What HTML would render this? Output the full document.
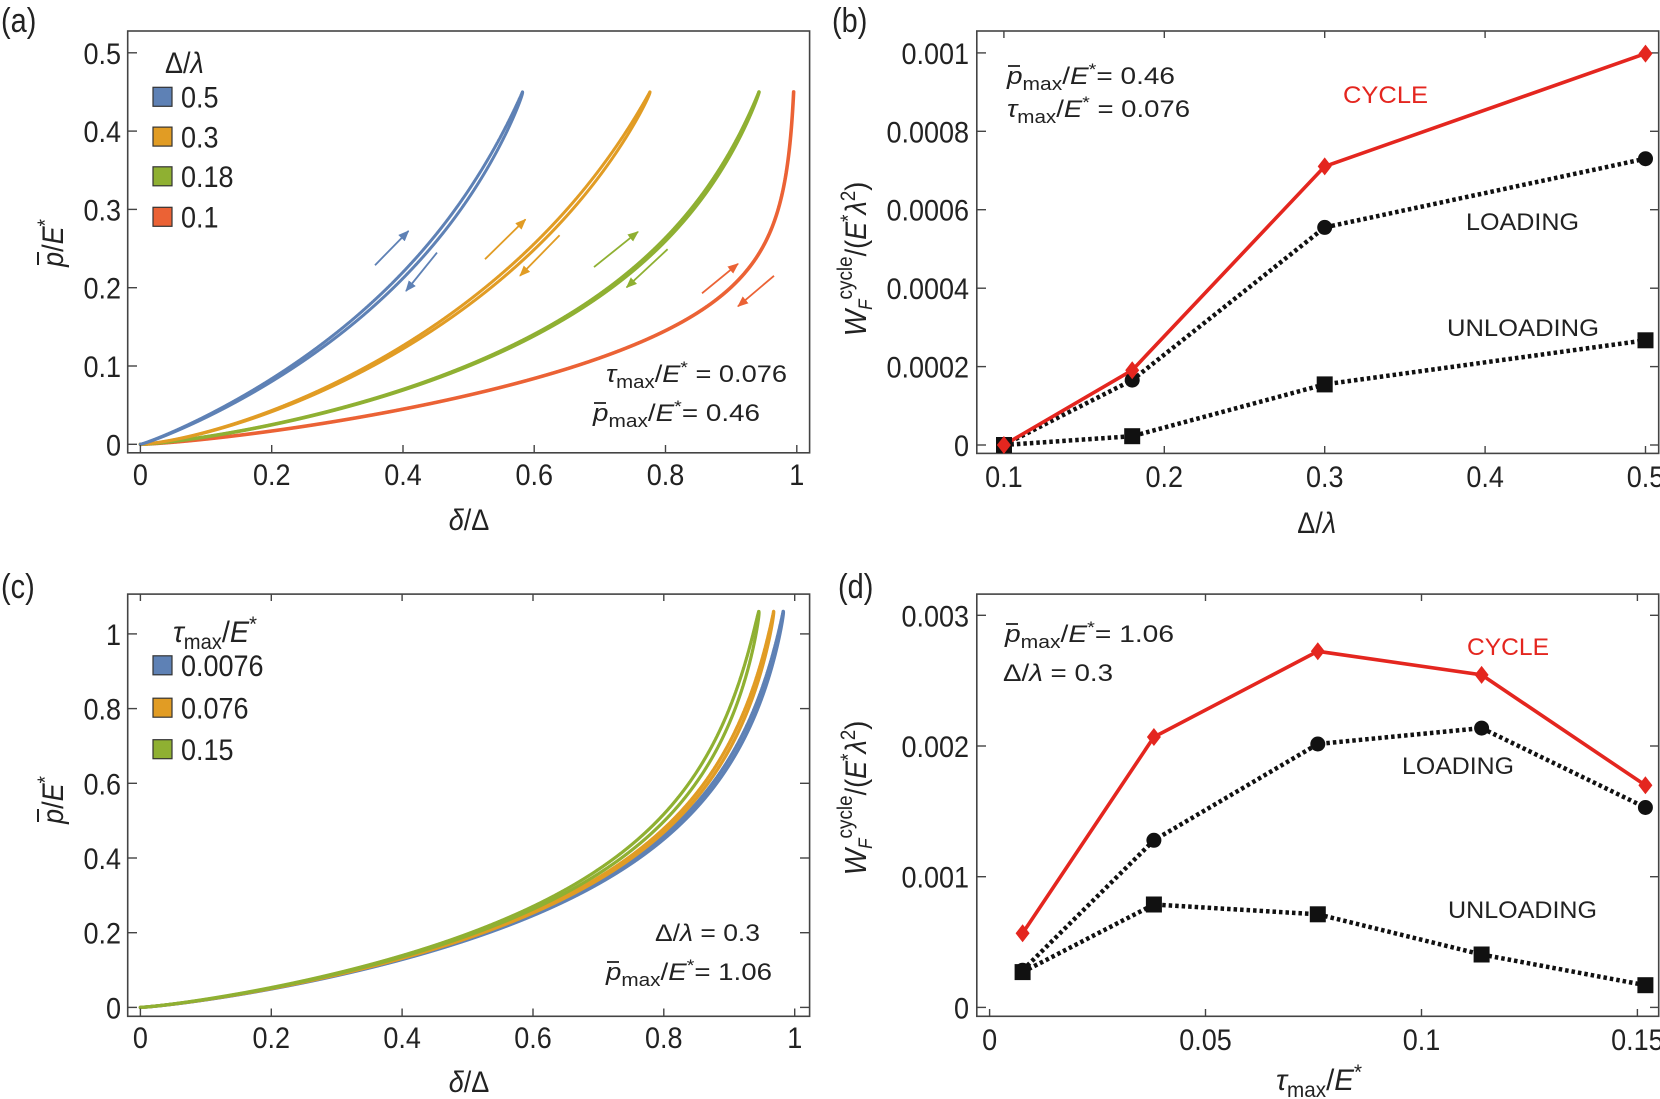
<!DOCTYPE html>
<html><head><meta charset="utf-8"><style>
html,body{margin:0;padding:0;background:#fff;overflow:hidden}
svg{display:block}
text{font-family:"Liberation Sans",sans-serif;fill:#222}
.t{font-size:30px}
.a{font-size:24px}
.it{font-style:italic}
</style></head><body>
<svg id="s" width="1660" height="1099" viewBox="0 0 1660 1099" xmlns="http://www.w3.org/2000/svg">
<defs>
<marker id="mb" markerWidth="11" markerHeight="9" refX="10" refY="4.5" orient="auto" markerUnits="userSpaceOnUse"><path d="M0,0 L11,4.5 L0,9 z" fill="#5E81B5"/></marker>
<marker id="mo" markerWidth="11" markerHeight="9" refX="10" refY="4.5" orient="auto" markerUnits="userSpaceOnUse"><path d="M0,0 L11,4.5 L0,9 z" fill="#E19C24"/></marker>
<marker id="mg" markerWidth="11" markerHeight="9" refX="10" refY="4.5" orient="auto" markerUnits="userSpaceOnUse"><path d="M0,0 L11,4.5 L0,9 z" fill="#8FB032"/></marker>
<marker id="mr" markerWidth="11" markerHeight="9" refX="10" refY="4.5" orient="auto" markerUnits="userSpaceOnUse"><path d="M0,0 L11,4.5 L0,9 z" fill="#EB6235"/></marker>
</defs>

<text class="t" transform="translate(1,32) scale(.85,1)" style="font-size:34px">(a)</text>
<text class="t" transform="translate(832,32) scale(.85,1)" style="font-size:34px">(b)</text>
<text class="t" transform="translate(1,598) scale(.85,1)" style="font-size:34px">(c)</text>
<text class="t" transform="translate(838,598) scale(.85,1)" style="font-size:34px">(d)</text>

<!-- ===== Panel A ===== -->
<g id="curvesA"></g>
<rect x="127.7" y="31" width="681.9" height="421.8" fill="none" stroke="#444" stroke-width="1.6"/>
<g stroke="#444" stroke-width="1.4">
<line x1="127.7" y1="444.3" x2="137" y2="444.3"/><line x1="127.7" y1="366" x2="137" y2="366"/><line x1="127.7" y1="287.7" x2="137" y2="287.7"/><line x1="127.7" y1="209.4" x2="137" y2="209.4"/><line x1="127.7" y1="131.1" x2="137" y2="131.1"/><line x1="127.7" y1="52.8" x2="137" y2="52.8"/>
<line x1="140.4" y1="452.8" x2="140.4" y2="445"/><line x1="271.7" y1="452.8" x2="271.7" y2="445"/><line x1="403" y1="452.8" x2="403" y2="445"/><line x1="534.2" y1="452.8" x2="534.2" y2="445"/><line x1="665.5" y1="452.8" x2="665.5" y2="445"/><line x1="796.8" y1="452.8" x2="796.8" y2="445"/>
</g>
<g text-anchor="end">
<text class="t" transform="translate(121,455.3) scale(.9,1)">0</text>
<text class="t" transform="translate(121,377) scale(.9,1)">0.1</text>
<text class="t" transform="translate(121,298.7) scale(.9,1)">0.2</text>
<text class="t" transform="translate(121,220.4) scale(.9,1)">0.3</text>
<text class="t" transform="translate(121,142.1) scale(.9,1)">0.4</text>
<text class="t" transform="translate(121,63.8) scale(.9,1)">0.5</text>
</g>
<g text-anchor="middle">
<text class="t" transform="translate(140.4,485) scale(.9,1)">0</text>
<text class="t" transform="translate(271.7,485) scale(.9,1)">0.2</text>
<text class="t" transform="translate(403,485) scale(.9,1)">0.4</text>
<text class="t" transform="translate(534.2,485) scale(.9,1)">0.6</text>
<text class="t" transform="translate(665.5,485) scale(.9,1)">0.8</text>
<text class="t" transform="translate(796.8,485) scale(.9,1)">1</text>
<text class="t" transform="translate(469,530) scale(.9,1)"><tspan class="it">δ</tspan>/Δ</text>
<text class="t" transform="translate(63,243) rotate(-90) scale(.9,1)"><tspan class="it">p</tspan>/<tspan class="it">E</tspan><tspan dy="-11" font-size="21">*</tspan></text>
</g>
<line x1="38" y1="265" x2="38" y2="252" stroke="#222" stroke-width="2"/>
<text class="t" transform="translate(165,73) scale(.9,1)">Δ/<tspan class="it">λ</tspan></text>
<rect x="153" y="87.3" width="19" height="19" fill="#5E81B5" stroke="#333" stroke-width="1.2"/>
<rect x="153" y="127.1" width="19" height="19" fill="#E19C24" stroke="#333" stroke-width="1.2"/>
<rect x="153" y="166.8" width="19" height="19" fill="#8FB032" stroke="#333" stroke-width="1.2"/>
<rect x="153" y="207.3" width="19" height="19" fill="#EB6235" stroke="#333" stroke-width="1.2"/>
<text class="t" transform="translate(181,107.5) scale(.9,1)">0.5</text>
<text class="t" transform="translate(181,147.3) scale(.9,1)">0.3</text>
<text class="t" transform="translate(181,187) scale(.9,1)">0.18</text>
<text class="t" transform="translate(181,227.5) scale(.9,1)">0.1</text>
<text class="a" x="606" y="382" textLength="181" lengthAdjust="spacingAndGlyphs"><tspan class="it">τ</tspan><tspan font-size="18" dy="6">max</tspan><tspan dy="-6">/</tspan><tspan class="it">E</tspan><tspan dy="-9" font-size="17">*</tspan><tspan dy="9"> = 0.076</tspan></text>
<text class="a" x="593" y="421" textLength="167" lengthAdjust="spacingAndGlyphs"><tspan class="it">p</tspan><tspan font-size="18" dy="6">max</tspan><tspan dy="-6">/</tspan><tspan class="it">E</tspan><tspan dy="-9" font-size="17">*</tspan><tspan dy="9">= 0.46</tspan></text>
<line x1="594" y1="403" x2="606" y2="403" stroke="#222" stroke-width="1.8"/>
<g stroke-width="1.8" fill="none">
<line x1="375" y1="265.2" x2="408.5" y2="231" stroke="#5E81B5" marker-end="url(#mb)"/>
<line x1="437" y1="252.6" x2="406" y2="291" stroke="#5E81B5" marker-end="url(#mb)"/>
<line x1="485" y1="259.2" x2="525.5" y2="219.4" stroke="#E19C24" marker-end="url(#mo)"/>
<line x1="559.6" y1="235.3" x2="520" y2="275.8" stroke="#E19C24" marker-end="url(#mo)"/>
<line x1="594" y1="267.1" x2="638" y2="231.8" stroke="#8FB032" marker-end="url(#mg)"/>
<line x1="667.6" y1="249.2" x2="626.6" y2="287.4" stroke="#8FB032" marker-end="url(#mg)"/>
<line x1="702" y1="293.3" x2="738" y2="263.8" stroke="#EB6235" marker-end="url(#mr)"/>
<line x1="774" y1="275.8" x2="738" y2="306.3" stroke="#EB6235" marker-end="url(#mr)"/>
</g>

<!-- ===== Panel B ===== -->
<rect x="976.8" y="31" width="681.9" height="422.4" fill="none" stroke="#444" stroke-width="1.6"/>
<g stroke="#444" stroke-width="1.4">
<line x1="976.8" y1="445" x2="986" y2="445"/><line x1="976.8" y1="366.6" x2="986" y2="366.6"/><line x1="976.8" y1="288.2" x2="986" y2="288.2"/><line x1="976.8" y1="209.7" x2="986" y2="209.7"/><line x1="976.8" y1="131.3" x2="986" y2="131.3"/><line x1="976.8" y1="52.9" x2="986" y2="52.9"/>
<line x1="1658.7" y1="445" x2="1650" y2="445"/><line x1="1658.7" y1="366.6" x2="1650" y2="366.6"/><line x1="1658.7" y1="288.2" x2="1650" y2="288.2"/><line x1="1658.7" y1="209.7" x2="1650" y2="209.7"/><line x1="1658.7" y1="131.3" x2="1650" y2="131.3"/><line x1="1658.7" y1="52.9" x2="1650" y2="52.9"/>
<line x1="1164.3" y1="453.4" x2="1164.3" y2="446"/><line x1="1324.7" y1="453.4" x2="1324.7" y2="446"/><line x1="1485.1" y1="453.4" x2="1485.1" y2="446"/><line x1="1003.9" y1="453.4" x2="1003.9" y2="446"/><line x1="1645.5" y1="453.4" x2="1645.5" y2="446"/>
<line x1="1003.9" y1="31" x2="1003.9" y2="38"/><line x1="1164.3" y1="31" x2="1164.3" y2="38"/><line x1="1324.7" y1="31" x2="1324.7" y2="38"/><line x1="1485.1" y1="31" x2="1485.1" y2="38"/>
</g>
<g text-anchor="end">
<text class="t" transform="translate(969,456) scale(.9,1)">0</text>
<text class="t" transform="translate(969,377.6) scale(.9,1)">0.0002</text>
<text class="t" transform="translate(969,299.2) scale(.9,1)">0.0004</text>
<text class="t" transform="translate(969,220.7) scale(.9,1)">0.0006</text>
<text class="t" transform="translate(969,142.3) scale(.9,1)">0.0008</text>
<text class="t" transform="translate(969,63.9) scale(.9,1)">0.001</text>
</g>
<g text-anchor="middle">
<text class="t" transform="translate(1003.9,487) scale(.9,1)">0.1</text>
<text class="t" transform="translate(1164.3,487) scale(.9,1)">0.2</text>
<text class="t" transform="translate(1324.7,487) scale(.9,1)">0.3</text>
<text class="t" transform="translate(1485.1,487) scale(.9,1)">0.4</text>
<text class="t" transform="translate(1645.5,487) scale(.9,1)">0.5</text>
<text class="t" transform="translate(1316.7,533) scale(.9,1)">Δ/<tspan class="it">λ</tspan></text>
<text class="t" transform="translate(866,259) rotate(-90) scale(.9,1)"><tspan class="it" font-size="31">W</tspan><tspan class="it" font-size="19" dy="6">F</tspan><tspan font-size="21" dy="-20">cycle</tspan><tspan dy="14">/(</tspan><tspan class="it">E</tspan><tspan dy="-11" font-size="21">*</tspan><tspan dy="11" class="it">λ</tspan><tspan dy="-11" font-size="21">2</tspan><tspan dy="11">)</tspan></text>
</g>
<text class="a" x="1007" y="84" textLength="168" lengthAdjust="spacingAndGlyphs"><tspan class="it">p</tspan><tspan font-size="18" dy="6">max</tspan><tspan dy="-6">/</tspan><tspan class="it">E</tspan><tspan dy="-9" font-size="17">*</tspan><tspan dy="9">= 0.46</tspan></text>
<line x1="1008" y1="66" x2="1020" y2="66" stroke="#222" stroke-width="1.8"/>
<text class="a" x="1007" y="117" textLength="183" lengthAdjust="spacingAndGlyphs"><tspan class="it">τ</tspan><tspan font-size="18" dy="6">max</tspan><tspan dy="-6">/</tspan><tspan class="it">E</tspan><tspan dy="-9" font-size="17">*</tspan><tspan dy="9"> = 0.076</tspan></text>
<text class="a" x="1343" y="103" textLength="85" lengthAdjust="spacingAndGlyphs" style="fill:#E4261F">CYCLE</text>
<text class="a" x="1466" y="230" textLength="113" lengthAdjust="spacingAndGlyphs">LOADING</text>
<text class="a" x="1447" y="336" textLength="152" lengthAdjust="spacingAndGlyphs">UNLOADING</text>
<g fill="none">
<polyline points="1003.9,445 1132.2,380.1 1324.7,227.4 1645.5,158.7" stroke="#111" stroke-width="4.5" stroke-dasharray="3.5,3"/>
<polyline points="1003.9,445 1132.2,436.2 1324.7,384.4 1645.5,340.3" stroke="#111" stroke-width="4.5" stroke-dasharray="3.5,3"/>
<polyline points="1003.9,445 1132.2,370.2 1324.7,166.4 1645.5,53.6" stroke="#E4261F" stroke-width="3.6"/>
</g>
<g fill="#111">
<circle cx="1132.2" cy="380.1" r="7.5"/><circle cx="1324.7" cy="227.4" r="7.5"/><circle cx="1645.5" cy="158.7" r="7.5"/><circle cx="1003.9" cy="445" r="6.5"/>
<rect x="996" y="437" width="16" height="16"/><rect x="1124.2" y="428.2" width="16" height="16"/><rect x="1316.7" y="376.4" width="16" height="16"/><rect x="1637.5" y="332.3" width="16" height="16"/>
</g>
<g fill="#E4261F">
<polygon points="1003.9,436 1010.9,445 1003.9,454 996.9,445"/>
<polygon points="1132.2,361.2 1139.2,370.2 1132.2,379.2 1125.2,370.2"/>
<polygon points="1324.7,157.4 1331.7,166.4 1324.7,175.4 1317.7,166.4"/>
<polygon points="1645.5,44.6 1652.5,53.6 1645.5,62.6 1638.5,53.6"/>
</g>

<!-- ===== Panel C ===== -->
<g id="curvesC"></g>
<rect x="127.7" y="594.1" width="681.9" height="422.2" fill="none" stroke="#444" stroke-width="1.6"/>
<g stroke="#444" stroke-width="1.4">
<line x1="127.7" y1="1007.4" x2="137" y2="1007.4"/><line x1="127.7" y1="932.7" x2="137" y2="932.7"/><line x1="127.7" y1="858" x2="137" y2="858"/><line x1="127.7" y1="783.3" x2="137" y2="783.3"/><line x1="127.7" y1="708.6" x2="137" y2="708.6"/><line x1="127.7" y1="633.9" x2="137" y2="633.9"/>
<line x1="809.6" y1="1007.4" x2="800" y2="1007.4"/><line x1="809.6" y1="932.7" x2="800" y2="932.7"/><line x1="809.6" y1="858" x2="800" y2="858"/><line x1="809.6" y1="783.3" x2="800" y2="783.3"/><line x1="809.6" y1="708.6" x2="800" y2="708.6"/><line x1="809.6" y1="633.9" x2="800" y2="633.9"/>
<line x1="140.4" y1="1016.3" x2="140.4" y2="1008.5"/><line x1="271.3" y1="1016.3" x2="271.3" y2="1008.5"/><line x1="402.1" y1="1016.3" x2="402.1" y2="1008.5"/><line x1="533" y1="1016.3" x2="533" y2="1008.5"/><line x1="663.8" y1="1016.3" x2="663.8" y2="1008.5"/><line x1="794.7" y1="1016.3" x2="794.7" y2="1008.5"/>
<line x1="140.4" y1="594.1" x2="140.4" y2="601"/><line x1="271.3" y1="594.1" x2="271.3" y2="601"/><line x1="402.1" y1="594.1" x2="402.1" y2="601"/><line x1="533" y1="594.1" x2="533" y2="601"/><line x1="663.8" y1="594.1" x2="663.8" y2="601"/><line x1="794.7" y1="594.1" x2="794.7" y2="601"/>
</g>
<g text-anchor="end">
<text class="t" transform="translate(121,1018.4) scale(.9,1)">0</text>
<text class="t" transform="translate(121,943.7) scale(.9,1)">0.2</text>
<text class="t" transform="translate(121,869) scale(.9,1)">0.4</text>
<text class="t" transform="translate(121,794.3) scale(.9,1)">0.6</text>
<text class="t" transform="translate(121,719.6) scale(.9,1)">0.8</text>
<text class="t" transform="translate(121,644.9) scale(.9,1)">1</text>
</g>
<g text-anchor="middle">
<text class="t" transform="translate(140.4,1048) scale(.9,1)">0</text>
<text class="t" transform="translate(271.3,1048) scale(.9,1)">0.2</text>
<text class="t" transform="translate(402.1,1048) scale(.9,1)">0.4</text>
<text class="t" transform="translate(533,1048) scale(.9,1)">0.6</text>
<text class="t" transform="translate(663.8,1048) scale(.9,1)">0.8</text>
<text class="t" transform="translate(794.7,1048) scale(.9,1)">1</text>
<text class="t" transform="translate(469,1092) scale(.9,1)"><tspan class="it">δ</tspan>/Δ</text>
<text class="t" transform="translate(63,800) rotate(-90) scale(.9,1)"><tspan class="it">p</tspan>/<tspan class="it">E</tspan><tspan dy="-11" font-size="21">*</tspan></text>
</g>
<line x1="38" y1="822" x2="38" y2="809" stroke="#222" stroke-width="2"/>
<text class="t" x="173" y="642" textLength="84" lengthAdjust="spacingAndGlyphs"><tspan class="it">τ</tspan><tspan font-size="21" dy="7">max</tspan><tspan dy="-7">/</tspan><tspan class="it">E</tspan><tspan dy="-11" font-size="21">*</tspan></text>
<rect x="153" y="655.8" width="19" height="19" fill="#5E81B5" stroke="#333" stroke-width="1.2"/>
<rect x="153" y="698.2" width="19" height="19" fill="#E19C24" stroke="#333" stroke-width="1.2"/>
<rect x="153" y="739.7" width="19" height="19" fill="#8FB032" stroke="#333" stroke-width="1.2"/>
<text class="t" transform="translate(181,676) scale(.9,1)">0.0076</text>
<text class="t" transform="translate(181,718.4) scale(.9,1)">0.076</text>
<text class="t" transform="translate(181,759.9) scale(.9,1)">0.15</text>
<text class="a" x="655" y="941" textLength="105" lengthAdjust="spacingAndGlyphs">Δ/<tspan class="it">λ</tspan> = 0.3</text>
<text class="a" x="606" y="980" textLength="166" lengthAdjust="spacingAndGlyphs"><tspan class="it">p</tspan><tspan font-size="18" dy="6">max</tspan><tspan dy="-6">/</tspan><tspan class="it">E</tspan><tspan dy="-9" font-size="17">*</tspan><tspan dy="9">= 1.06</tspan></text>
<line x1="607" y1="962" x2="619" y2="962" stroke="#222" stroke-width="1.8"/>

<!-- ===== Panel D ===== -->
<rect x="976.8" y="594.1" width="681.9" height="422.2" fill="none" stroke="#444" stroke-width="1.6"/>
<g stroke="#444" stroke-width="1.4">
<line x1="976.8" y1="1007.4" x2="986" y2="1007.4"/><line x1="976.8" y1="876.7" x2="986" y2="876.7"/><line x1="976.8" y1="746" x2="986" y2="746"/><line x1="976.8" y1="615.3" x2="986" y2="615.3"/>
<line x1="1658.7" y1="1007.4" x2="1650" y2="1007.4"/><line x1="1658.7" y1="876.7" x2="1650" y2="876.7"/><line x1="1658.7" y1="746" x2="1650" y2="746"/><line x1="1658.7" y1="615.3" x2="1650" y2="615.3"/>
<line x1="989.6" y1="1016.3" x2="989.6" y2="1009"/><line x1="1205.5" y1="1016.3" x2="1205.5" y2="1009"/><line x1="1421.5" y1="1016.3" x2="1421.5" y2="1009"/><line x1="1637.4" y1="1016.3" x2="1637.4" y2="1009"/>
<line x1="1205.5" y1="594.1" x2="1205.5" y2="601"/><line x1="1421.5" y1="594.1" x2="1421.5" y2="601"/><line x1="1637.4" y1="594.1" x2="1637.4" y2="601"/>
</g>
<g text-anchor="end">
<text class="t" transform="translate(969,1018.4) scale(.9,1)">0</text>
<text class="t" transform="translate(969,887.7) scale(.9,1)">0.001</text>
<text class="t" transform="translate(969,757) scale(.9,1)">0.002</text>
<text class="t" transform="translate(969,626.3) scale(.9,1)">0.003</text>
</g>
<g text-anchor="middle">
<text class="t" transform="translate(989.6,1050) scale(.9,1)">0</text>
<text class="t" transform="translate(1205.5,1050) scale(.9,1)">0.05</text>
<text class="t" transform="translate(1421.5,1050) scale(.9,1)">0.1</text>
<text class="t" transform="translate(1637.4,1050) scale(.9,1)">0.15</text>
<text class="t" transform="translate(866,798) rotate(-90) scale(.9,1)"><tspan class="it" font-size="31">W</tspan><tspan class="it" font-size="19" dy="6">F</tspan><tspan font-size="21" dy="-20">cycle</tspan><tspan dy="14">/(</tspan><tspan class="it">E</tspan><tspan dy="-11" font-size="21">*</tspan><tspan dy="11" class="it">λ</tspan><tspan dy="-11" font-size="21">2</tspan><tspan dy="11">)</tspan></text>
</g>
<text class="t" x="1276" y="1090" textLength="86" lengthAdjust="spacingAndGlyphs"><tspan class="it">τ</tspan><tspan font-size="21" dy="7">max</tspan><tspan dy="-7">/</tspan><tspan class="it">E</tspan><tspan dy="-11" font-size="21">*</tspan></text>
<text class="a" x="1005" y="642" textLength="169" lengthAdjust="spacingAndGlyphs"><tspan class="it">p</tspan><tspan font-size="18" dy="6">max</tspan><tspan dy="-6">/</tspan><tspan class="it">E</tspan><tspan dy="-9" font-size="17">*</tspan><tspan dy="9">= 1.06</tspan></text>
<line x1="1006" y1="624" x2="1018" y2="624" stroke="#222" stroke-width="1.8"/>
<text class="a" x="1003" y="681" textLength="110" lengthAdjust="spacingAndGlyphs">Δ/<tspan class="it">λ</tspan> = 0.3</text>
<text class="a" x="1467" y="655" textLength="82" lengthAdjust="spacingAndGlyphs" style="fill:#E4261F">CYCLE</text>
<text class="a" x="1402" y="774" textLength="112" lengthAdjust="spacingAndGlyphs">LOADING</text>
<text class="a" x="1448" y="918" textLength="149" lengthAdjust="spacingAndGlyphs">UNLOADING</text>
<g fill="none">
<polyline points="1022.6,970.3 1153.9,840.3 1317.8,744 1481.6,728.1 1645.4,807.5" stroke="#111" stroke-width="4.5" stroke-dasharray="3.5,3"/>
<polyline points="1022.6,972.1 1153.9,904.5 1317.8,914.3 1481.6,954.5 1645.4,985.2" stroke="#111" stroke-width="4.5" stroke-dasharray="3.5,3"/>
<polyline points="1022.6,933.3 1153.9,737 1317.8,651.3 1481.6,674.9 1645.4,785.3" stroke="#E4261F" stroke-width="3.6"/>
</g>
<g fill="#111">
<circle cx="1022.6" cy="970.3" r="7.5"/><circle cx="1153.9" cy="840.3" r="7.5"/><circle cx="1317.8" cy="744" r="7.5"/><circle cx="1481.6" cy="728.1" r="7.5"/><circle cx="1645.4" cy="807.5" r="7.5"/>
<rect x="1014.6" y="964.1" width="16" height="16"/><rect x="1145.9" y="896.5" width="16" height="16"/><rect x="1309.8" y="906.3" width="16" height="16"/><rect x="1473.6" y="946.5" width="16" height="16"/><rect x="1637.4" y="977.2" width="16" height="16"/>
</g>
<g fill="#E4261F">
<polygon points="1022.6,924.3 1029.6,933.3 1022.6,942.3 1015.6,933.3"/>
<polygon points="1153.9,728 1160.9,737 1153.9,746 1146.9,737"/>
<polygon points="1317.8,642.3 1324.8,651.3 1317.8,660.3 1310.8,651.3"/>
<polygon points="1481.6,665.9 1488.6,674.9 1481.6,683.9 1474.6,674.9"/>
<polygon points="1645.4,776.3 1652.4,785.3 1645.4,794.3 1638.4,785.3"/>
</g>
</svg>
<script>
(function(){
var NS="http://www.w3.org/2000/svg";
function f(a,n,xm,q,s){s=s||1;return function(x){x=x/s;return a*Math.pow(x,n)/Math.pow(1-x/xm,q);};}
function build(g,fn,ymax,X,Y,dx,color,w,xlim){
  var d="",px=0,py=0,first=true;
  for(var i=0;i<=8000;i++){
    var x=i/8000*xlim; var y=fn(x);
    if(!isFinite(y)||y>=ymax){
      if(isFinite(y)&&i>0){var t=(ymax-py)/(y-py);x=px+(x-px)*t;}else{x=px;}
      y=ymax;
    }
    var tt=y/ymax; var off=dx*Math.pow(Math.max(0,Math.sin(Math.PI*tt)),0.5);
    d+=(first?"M":"L")+(X(x)+off).toFixed(2)+","+Y(y).toFixed(2);
    first=false;
    if(y>=ymax)break;
    px=x;py=y;
  }
  var p=document.createElementNS(NS,"path");
  p.setAttribute("d",d);p.setAttribute("fill","none");p.setAttribute("stroke",color);
  p.setAttribute("stroke-width",w);p.setAttribute("stroke-linecap","round");
  g.appendChild(p);
}
var AX=function(v){return 140.4+656.4*v;},AY=function(v){return 444.3-783*v;};
var CX=function(v){return 140.4+654.3*v;},CY=function(v){return 1007.4-373.5*v;};
var ga=document.getElementById("curvesA");
var red=f(0.13,1.3,1.002,0.25);
build(ga,red,0.45,AX,AY,0,"#EB6235",3.6,1.0015);
var gr=f(0.184,1.3,1.1,0.5);
build(ga,gr,0.45,AX,AY,0,"#8FB032",3.4,1.09);
build(ga,gr,0.45,AX,AY,3,"#8FB032",3.4,1.09);
var or=f(0.38,1.4,1.0,0.35);
build(ga,or,0.45,AX,AY,0,"#E19C24",3,0.999);
build(ga,or,0.45,AX,AY,6,"#E19C24",3,0.999);
var bl=f(0.426,1.1,0.8,0.5);
build(ga,bl,0.45,AX,AY,0,"#5E81B5",3,0.799);
build(ga,bl,0.45,AX,AY,6,"#5E81B5",3,0.799);
var gc=document.getElementById("curvesC");
var cb=f(0.315,1.2,1.05,0.45,1.0);
var co=f(0.315,1.2,1.05,0.45,0.985);
var cg=f(0.315,1.2,1.05,0.45,0.962);
build(gc,cb,1.06,CX,CY,0,"#5E81B5",3.4,1.04);
build(gc,cb,1.06,CX,CY,4,"#5E81B5",3.4,1.04);
build(gc,co,1.06,CX,CY,0,"#E19C24",3.2,1.03);
build(gc,co,1.06,CX,CY,4,"#E19C24",3.2,1.03);
build(gc,cg,1.06,CX,CY,-2,"#8FB032",3.2,1.0);
build(gc,cg,1.06,CX,CY,5,"#8FB032",3.2,1.0);
})();
</script>
</body></html>
